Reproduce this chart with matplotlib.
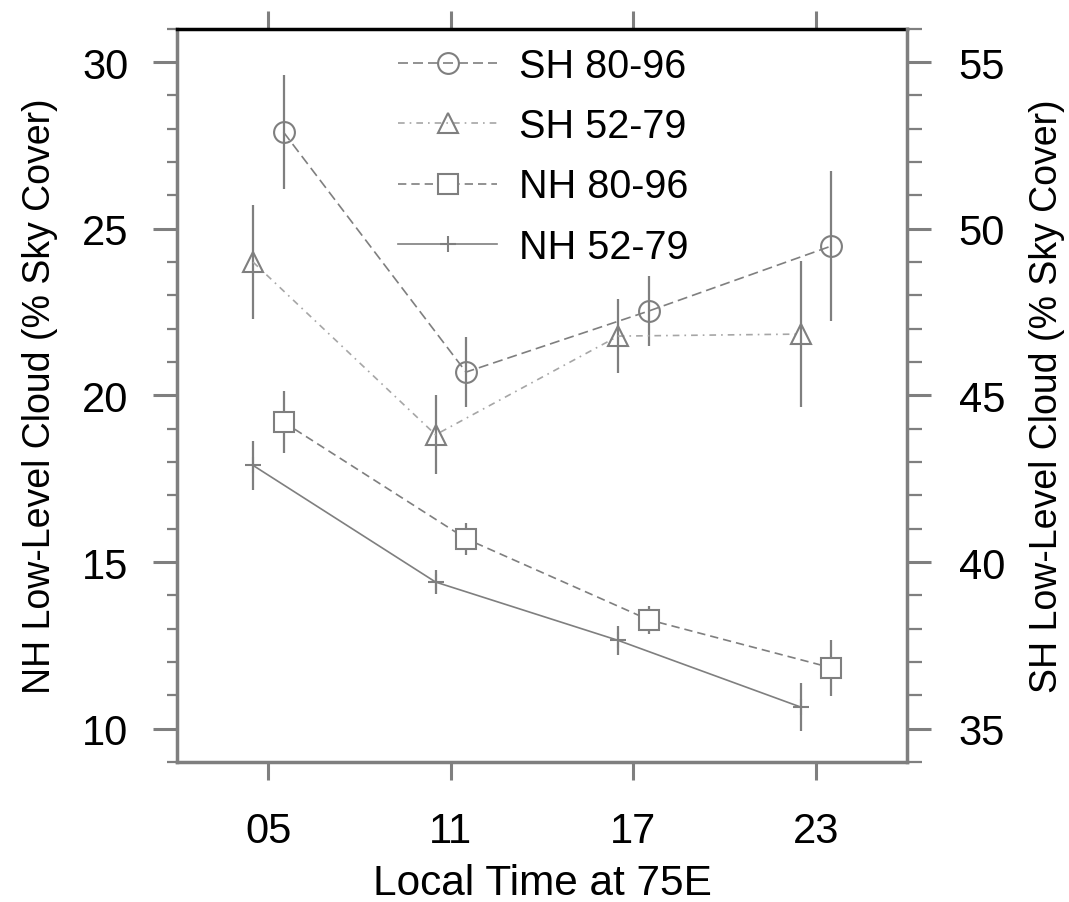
import matplotlib as m
m.use("Agg")
import matplotlib.pyplot as plt
from matplotlib.ticker import MultipleLocator

plt.rcParams['font.family'] = ['Liberation Sans', 'DejaVu Sans']

# local time at 75E (hours) and the tick labels
hours = [5, 11, 17, 23]
hour_labels = ['05', '11', '17', '23']

# NH low-level cloud (% sky cover), left axis
nh_52_79 = [17.9, 14.4, 12.65, 10.65]
nh_52_79_err = [0.73, 0.35, 0.44, 0.72]
nh_80_96 = [19.2, 15.7, 13.27, 11.83]
nh_80_96_err = [0.93, 0.48, 0.42, 0.84]

# SH low-level cloud (% sky cover), right axis
sh_80_96 = [52.9, 45.7, 47.53, 49.48]
sh_80_96_err = [1.72, 1.06, 1.06, 2.25]
sh_52_79 = [49.0, 43.82, 46.78, 46.84]
sh_52_79_err = [1.7, 1.18, 1.12, 2.2]

GREY = '#7f7f7f'
LIGHT = '#a6a6a6'
TICK_FS = 30


def shift(xs, d):
    return [x + d for x in xs]


fig = plt.figure(figsize=(10.69, 9.03), dpi=100)
ax = fig.add_axes([0.1656, 0.155, 0.683, 0.812])
ax2 = ax.twinx()

# error bars first, then lines with markers
ax.errorbar(shift(hours, -0.5), nh_52_79, yerr=nh_52_79_err, fmt='none',
            ecolor=GREY, elinewidth=1.6, capsize=0)
ax.errorbar(shift(hours, 0.5), nh_80_96, yerr=nh_80_96_err, fmt='none',
            ecolor=GREY, elinewidth=1.6, capsize=0)
ax2.errorbar(shift(hours, 0.5), sh_80_96, yerr=sh_80_96_err, fmt='none',
             ecolor=GREY, elinewidth=1.6, capsize=0)
ax2.errorbar(shift(hours, -0.5), sh_52_79, yerr=sh_52_79_err, fmt='none',
             ecolor=GREY, elinewidth=1.6, capsize=0)

l4, = ax.plot(shift(hours, -0.5), nh_52_79, color=GREY, lw=1.2,
              marker='+', ms=12, mew=1.5, label='NH 52-79')
l3, = ax.plot(shift(hours, 0.5), nh_80_96, color=GREY, lw=1.2,
              ls=(0, (5, 3)), marker='s', ms=15, mfc='white', mew=1.5,
              label='NH 80-96')
l1, = ax2.plot(shift(hours, 0.5), sh_80_96, color=GREY, lw=1.2,
               ls=(0, (6, 3)), marker='o', ms=15, mfc='none', mew=1.5,
               label='SH 80-96')
l2, = ax2.plot(shift(hours, -0.5), sh_52_79, color=LIGHT, lw=1.2,
               ls=(0, (4, 3, 1, 3)), marker='^', ms=14, mfc='none',
               mec=GREY, mew=1.5, label='SH 52-79')

ax.set_xlim(2, 26)
ax.set_ylim(9, 31)
ax2.set_ylim(34, 56)

ax.set_xticks(hours)
ax.set_xticklabels(hour_labels)
ax.yaxis.set_major_locator(MultipleLocator(5))
ax.yaxis.set_minor_locator(MultipleLocator(1))
ax2.yaxis.set_major_locator(MultipleLocator(5))
ax2.yaxis.set_minor_locator(MultipleLocator(1))

ax.tick_params(axis='x', which='major', direction='out', top=True,
               length=13, width=2.2, color=GREY, labelsize=TICK_FS, pad=22)
ax.tick_params(axis='y', which='major', direction='out', length=17,
               width=2.2, color=GREY, labelsize=TICK_FS, pad=18)
ax.tick_params(axis='y', which='minor', direction='out', length=7,
               width=1.6, color=GREY)
ax2.tick_params(axis='y', which='major', direction='out', length=17,
                width=2.2, color=GREY, labelsize=TICK_FS, pad=20)
ax2.tick_params(axis='y', which='minor', direction='out', length=11,
                width=1.6, color=GREY)

for side in ['left', 'bottom']:
    ax.spines[side].set_color(GREY)
    ax.spines[side].set_linewidth(2.5)
ax.spines['top'].set_color('black')
ax.spines['top'].set_linewidth(2.5)
ax.spines['right'].set_visible(False)
for side in ['left', 'bottom', 'top']:
    ax2.spines[side].set_visible(False)
ax2.spines['right'].set_color(GREY)
ax2.spines['right'].set_linewidth(2.5)

ax.set_xlabel('Local Time at 75E', fontsize=30.5, labelpad=9)
ax.set_ylabel('NH Low-Level Cloud (% Sky Cover)', fontsize=27, labelpad=17)
ax2.set_ylabel('SH Low-Level Cloud (% Sky Cover)', fontsize=27,
               rotation=90, labelpad=17)

ax2.legend(handles=[l1, l2, l3, l4], loc='upper left',
           bbox_to_anchor=(0.303, 0.975), frameon=False, fontsize=28.5,
           handlelength=2.5, handletextpad=0.55, labelspacing=0.56,
           borderaxespad=0, borderpad=0)

plt.savefig('out.png', dpi=100)
